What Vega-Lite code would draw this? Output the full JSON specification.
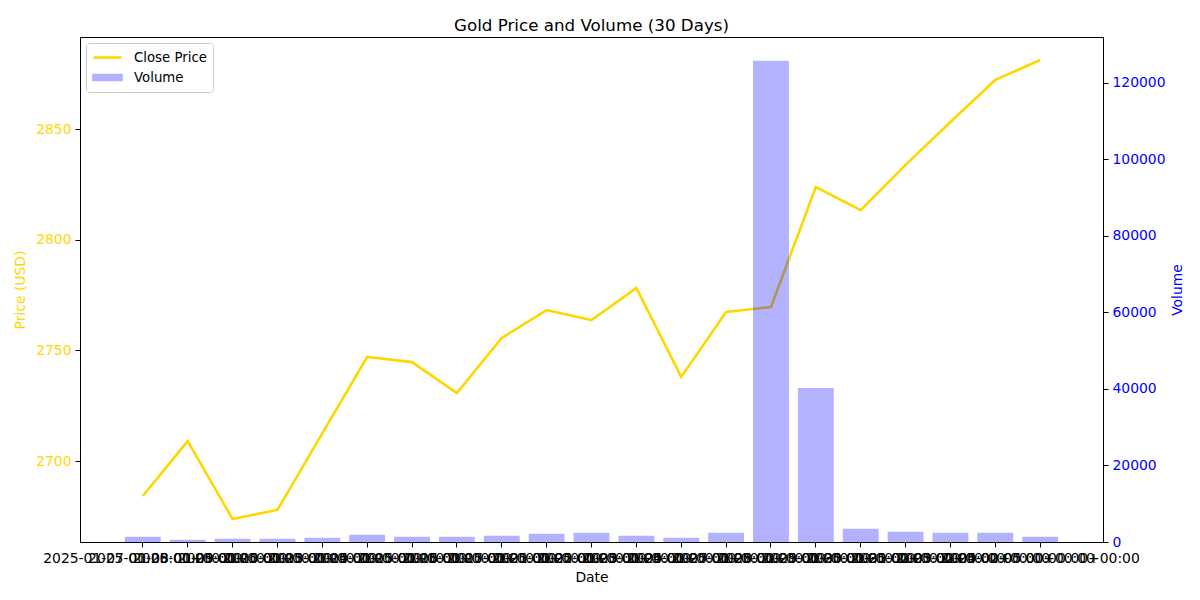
{
  "$schema": "https://vega.github.io/schema/vega-lite/v6.json",
  "autosize": {"type": "none"},
  "padding": {"left": 80, "top": 37, "right": 97, "bottom": 58},
  "width": 1023,
  "height": 505,
  "title": {"text": "Gold Price and Volume (30 Days)", "font": "DejaVu Sans", "fontSize": 16.7, "fontWeight": "normal", "color": "black", "offset": 2},
  "data": {"values": [
    {"date": "2025-01-07 00:00:00+00:00", "close": 2684.2, "volume": 1400},
    {"date": "2025-01-08 00:00:00+00:00", "close": 2709.0, "volume": 600},
    {"date": "2025-01-09 00:00:00+00:00", "close": 2673.8, "volume": 870},
    {"date": "2025-01-10 00:00:00+00:00", "close": 2677.9, "volume": 820},
    {"date": "2025-01-13 00:00:00+00:00", "close": 2712.5, "volume": 1130},
    {"date": "2025-01-14 00:00:00+00:00", "close": 2747.0, "volume": 1900},
    {"date": "2025-01-15 00:00:00+00:00", "close": 2744.7, "volume": 1400},
    {"date": "2025-01-16 00:00:00+00:00", "close": 2730.7, "volume": 1400},
    {"date": "2025-01-17 00:00:00+00:00", "close": 2755.6, "volume": 1650},
    {"date": "2025-01-21 00:00:00+00:00", "close": 2768.2, "volume": 2170},
    {"date": "2025-01-22 00:00:00+00:00", "close": 2763.7, "volume": 2430},
    {"date": "2025-01-23 00:00:00+00:00", "close": 2778.2, "volume": 1650},
    {"date": "2025-01-24 00:00:00+00:00", "close": 2738.0, "volume": 1130},
    {"date": "2025-01-27 00:00:00+00:00", "close": 2767.3, "volume": 2430},
    {"date": "2025-01-28 00:00:00+00:00", "close": 2769.6, "volume": 125800},
    {"date": "2025-01-29 00:00:00+00:00", "close": 2823.8, "volume": 40250},
    {"date": "2025-01-30 00:00:00+00:00", "close": 2813.4, "volume": 3480},
    {"date": "2025-01-31 00:00:00+00:00", "close": 2833.8, "volume": 2700},
    {"date": "2025-02-03 00:00:00+00:00", "close": 2853.2, "volume": 2430},
    {"date": "2025-02-04 00:00:00+00:00", "close": 2872.2, "volume": 2430},
    {"date": "2025-02-05 00:00:00+00:00", "close": 2881.2, "volume": 1400}
  ]},
  "encoding": {
    "x": {
      "field": "date", "type": "nominal", "sort": null,
      "scale": {"paddingInner": 0.2, "paddingOuter": 1.03},
      "axis": {"title": "Date", "labelAngle": 0, "labelOverlap": false, "labelLimit": 0, "titlePadding": 6}
    }
  },
  "layer": [
    {
      "mark": {"type": "line", "strokeWidth": 2.6},
      "encoding": {
        "y": {
          "field": "close", "type": "quantitative",
          "scale": {"domain": [2663.4, 2891.6], "zero": false, "nice": false},
          "axis": {"title": "Price (USD)", "orient": "left", "format": "d", "values": [2700, 2750, 2800, 2850], "labelColor": "#FFD700", "titleColor": "#FFD700", "titlePadding": 8}
        },
        "color": {
          "datum": "Close Price",
          "scale": {"domain": ["Close Price", "Volume"], "range": ["#FFD700", "#0000ff"]},
          "legend": {
            "title": null,
            "orient": "top-left",
            "offset": 6,
            "padding": 6,
            "rowPadding": 5,
            "strokeColor": "#cccccc",
            "fillColor": "white",
            "cornerRadius": 3,
            "symbolSize": 196,
            "symbolOffset": 7,
            "labelOffset": 18,
            "labelFontSize": 13.3,
            "labelFont": "DejaVu Sans",
            "encode": {
              "symbols": {
                "update": {
                  "shape": [
                    {"test": "datum.value === 'Volume'", "value": "M-2,-0.36L2,-0.36L2,0.36L-2,0.36Z"},
                    {"value": "M-2,0L2,0"}
                  ],
                  "stroke": [
                    {"test": "datum.value === 'Volume'", "value": "transparent"},
                    {"value": "#FFD700"}
                  ],
                  "strokeWidth": {"value": 2.6},
                  "opacity": [
                    {"test": "datum.value === 'Volume'", "value": 0.3},
                    {"value": 1}
                  ]
                }
              }
            }
          }
        }
      }
    },
    {
      "mark": {"type": "bar", "opacity": 0.3},
      "encoding": {
        "y": {
          "field": "volume", "type": "quantitative",
          "scale": {"domain": [0, 132000], "nice": false},
          "axis": {"title": "Volume", "orient": "right", "format": "d", "values": [0, 20000, 40000, 60000, 80000, 100000, 120000], "labelColor": "#0000ff", "titleColor": "#0000ff", "titleAngle": 270, "titlePadding": 19}
        },
        "color": {"datum": "Volume"}
      }
    }
  ],
  "resolve": {"scale": {"y": "independent"}},
  "config": {
    "view": {"stroke": "black", "strokeWidth": 1},
    "axis": {
      "grid": false,
      "domainColor": "black",
      "tickColor": "black",
      "tickSize": 5,
      "labelPadding": 4,
      "labelFont": "DejaVu Sans",
      "labelFontSize": 13.9,
      "titleFont": "DejaVu Sans",
      "titleFontSize": 13.9,
      "titleFontWeight": "normal",
      "labelColor": "black",
      "titleColor": "black"
    }
  }
}
